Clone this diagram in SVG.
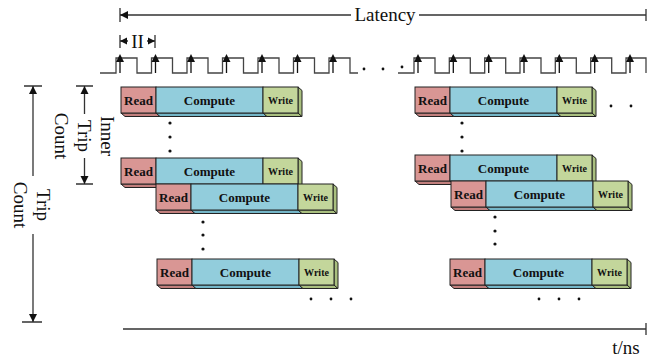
<svg xmlns="http://www.w3.org/2000/svg" width="662" height="360" viewBox="0 0 662 360">
<defs>
<style>
text{font-family:"Liberation Serif","Times New Roman",serif;fill:#111}
.lbl{font-size:19px}
.bt{font-size:13px;font-weight:bold;text-anchor:middle}
.wt{font-size:10px;font-weight:bold;text-anchor:middle}
.rd{fill:#d99694;stroke:#222;stroke-width:1}
.cp{fill:#92cddc;stroke:#222;stroke-width:1}
.wr{fill:#c3d69b;stroke:#222;stroke-width:1}
.rd2{fill:#c27f7d;stroke:#222;stroke-width:1}
.cp2{fill:#74b6c8;stroke:#222;stroke-width:1}
.wr2{fill:#a9bf7f;stroke:#222;stroke-width:1}
.ln{fill:none;stroke:#333;stroke-width:1.3}
.clk{fill:none;stroke:#444;stroke-width:1.3}
.dot{fill:#111}
</style>
<g id="row">
<polygon class="rd2" points="0,26 35,26 39,29.5 4,29.5"/>
<polygon class="cp2" points="35,26 142,26 146,29.5 39,29.5"/>
<polygon class="wr2" points="142,26 177,26 181,29.5 146,29.5"/>
<polygon class="wr2" points="177,0 181,3.5 181,29.5 177,26"/>
<rect class="rd" x="0" y="0" width="35" height="26"/>
<rect class="cp" x="35" y="0" width="107" height="26"/>
<rect class="wr" x="142" y="0" width="35" height="26"/>
<text class="bt" x="17.5" y="17.5">Read</text>
<text class="bt" x="88.5" y="17.5">Compute</text>
<text class="wt" x="159.5" y="16.5">Write</text>
</g>
<path id="clkPulse" d="M0,73 L16,73 L16,58 L37,58 L37,73"/>
<path id="clkArrow" d="M20,73 L20,62"/>
</defs>

<!-- clock -->
<g id="clock">
<path class="clk" d="M100,73 H116 V58 H137 V73 H151.5 V58 H172.5 V73 H187 V58 H208 V73 H222.5 V58 H243.5 V73 H258 V58 H279 V73 H293.5 V58 H314.5 V73 H329 V58 H350 V73 H358"/>
<path class="clk" d="M398,73 H414 V58 H435 V73 H449.3 V58 H470.3 V73 H484.7 V58 H505.7 V73 H520 V58 H541 V73 H555.3 V58 H576.3 V73 H590.7 V58 H611.7 V73 H626 V58 H646 V73"/>
<g stroke="#111" stroke-width="1.3" fill="#111">
<path d="M120,73 V61 M155.5,73 V61 M191,73 V61 M226.5,73 V61 M262,73 V61 M297.5,73 V61 M333,73 V61 M418,73 V61 M453.3,73 V61 M488.7,73 V61 M524,73 V61 M559.3,73 V61 M594.7,73 V61 M630,73 V61"/>
<path stroke="none" d="M120,54 l-4,8 h8z M155.5,54 l-4,8 h8z M191,54 l-4,8 h8z M226.5,54 l-4,8 h8z M262,54 l-4,8 h8z M297.5,54 l-4,8 h8z M333,54 l-4,8 h8z M418,54 l-4,8 h8z M453.3,54 l-4,8 h8z M488.7,54 l-4,8 h8z M524,54 l-4,8 h8z M559.3,54 l-4,8 h8z M594.7,54 l-4,8 h8z M630,54 l-4,8 h8z"/>
</g>
<circle class="dot" cx="364" cy="69" r="1.4"/>
<circle class="dot" cx="383" cy="69" r="1.4"/>
<circle class="dot" cx="402" cy="67" r="1.4"/>
</g>

<!-- connectors / dimension lines -->
<g id="connectors">
<!-- Latency -->
<path class="ln" d="M120,8 V22 M646,9 V21 M120,15 H351 M419,15 H646"/>
<path fill="#111" d="M120,15 l8,-4 v8z"/>
<!-- II -->
<path class="ln" d="M120,35 V48 M155,35 V48 M120,41 H128 M147,41 H155"/>
<path fill="#111" d="M120,41 l7,-3.5 v7z M155,41 l-7,-3.5 v7z"/>
<!-- outer trip count -->
<path class="ln" d="M24,86 H42 M22,322 H42 M33,86 V176 M33,234 V322"/>
<path fill="#111" d="M33,86 l-4,8 h8z M33,322 l-4,-8 h8z"/>
<!-- inner trip count -->
<path class="ln" d="M76,86 H93 M76,184 H93 M84.5,86 V114 M84.5,158 V184"/>
<path fill="#111" d="M84.5,86 l-4,8 h8z M84.5,184 l-4,-8 h8z"/>
<!-- time axis -->
<path class="ln" d="M123,329 H646 M646,323 V335"/>
</g>

<!-- labels -->
<g id="labels">
<text class="lbl" x="385" y="21" text-anchor="middle">Latency</text>
<text class="lbl" x="137.5" y="47.5" text-anchor="middle">II</text>
<text class="lbl" text-anchor="middle" transform="translate(31.5,205) rotate(90)"><tspan x="0" y="-5">Trip</tspan><tspan x="0" y="18">Count</tspan></text>
<text class="lbl" text-anchor="middle" transform="translate(84,136) rotate(90)"><tspan x="0" y="-17">Inner</tspan><tspan x="0" y="6">Trip</tspan><tspan x="0" y="29">Count</tspan></text>
<text class="lbl" x="626" y="354" text-anchor="middle">t/ns</text>
</g>

<!-- left iterations -->
<g id="iterL1"><use href="#row" transform="translate(121,87)"/></g>
<g id="iterL2"><use href="#row" transform="translate(121,158)"/></g>
<g id="iterL3"><use href="#row" transform="translate(156,184)"/></g>
<g id="iterL4"><use href="#row" transform="translate(157,259)"/></g>
<!-- right iterations -->
<g id="iterR1"><use href="#row" transform="translate(415,87)"/></g>
<g id="iterR2"><use href="#row" transform="translate(415,155)"/></g>
<g id="iterR3"><use href="#row" transform="translate(451,181)"/></g>
<g id="iterR4"><use href="#row" transform="translate(450,259)"/></g>

<!-- ellipses -->
<g id="dots">
<circle class="dot" cx="170" cy="123" r="1.6"/><circle class="dot" cx="170" cy="137" r="1.6"/><circle class="dot" cx="170" cy="151" r="1.6"/>
<circle class="dot" cx="203" cy="222" r="1.6"/><circle class="dot" cx="203" cy="235" r="1.6"/><circle class="dot" cx="203" cy="249" r="1.6"/>
<circle class="dot" cx="462" cy="123" r="1.6"/><circle class="dot" cx="462" cy="137" r="1.6"/><circle class="dot" cx="462" cy="151" r="1.6"/>
<circle class="dot" cx="495" cy="217" r="1.6"/><circle class="dot" cx="495" cy="231" r="1.6"/><circle class="dot" cx="495" cy="244" r="1.6"/>
<circle class="dot" cx="611" cy="106" r="1.4"/><circle class="dot" cx="631" cy="106" r="1.4"/>
<circle class="dot" cx="311" cy="299" r="1.4"/><circle class="dot" cx="331" cy="299" r="1.4"/><circle class="dot" cx="351" cy="299" r="1.4"/>
<circle class="dot" cx="539" cy="299" r="1.4"/><circle class="dot" cx="559" cy="299" r="1.4"/><circle class="dot" cx="579" cy="299" r="1.4"/>
</g>
</svg>
